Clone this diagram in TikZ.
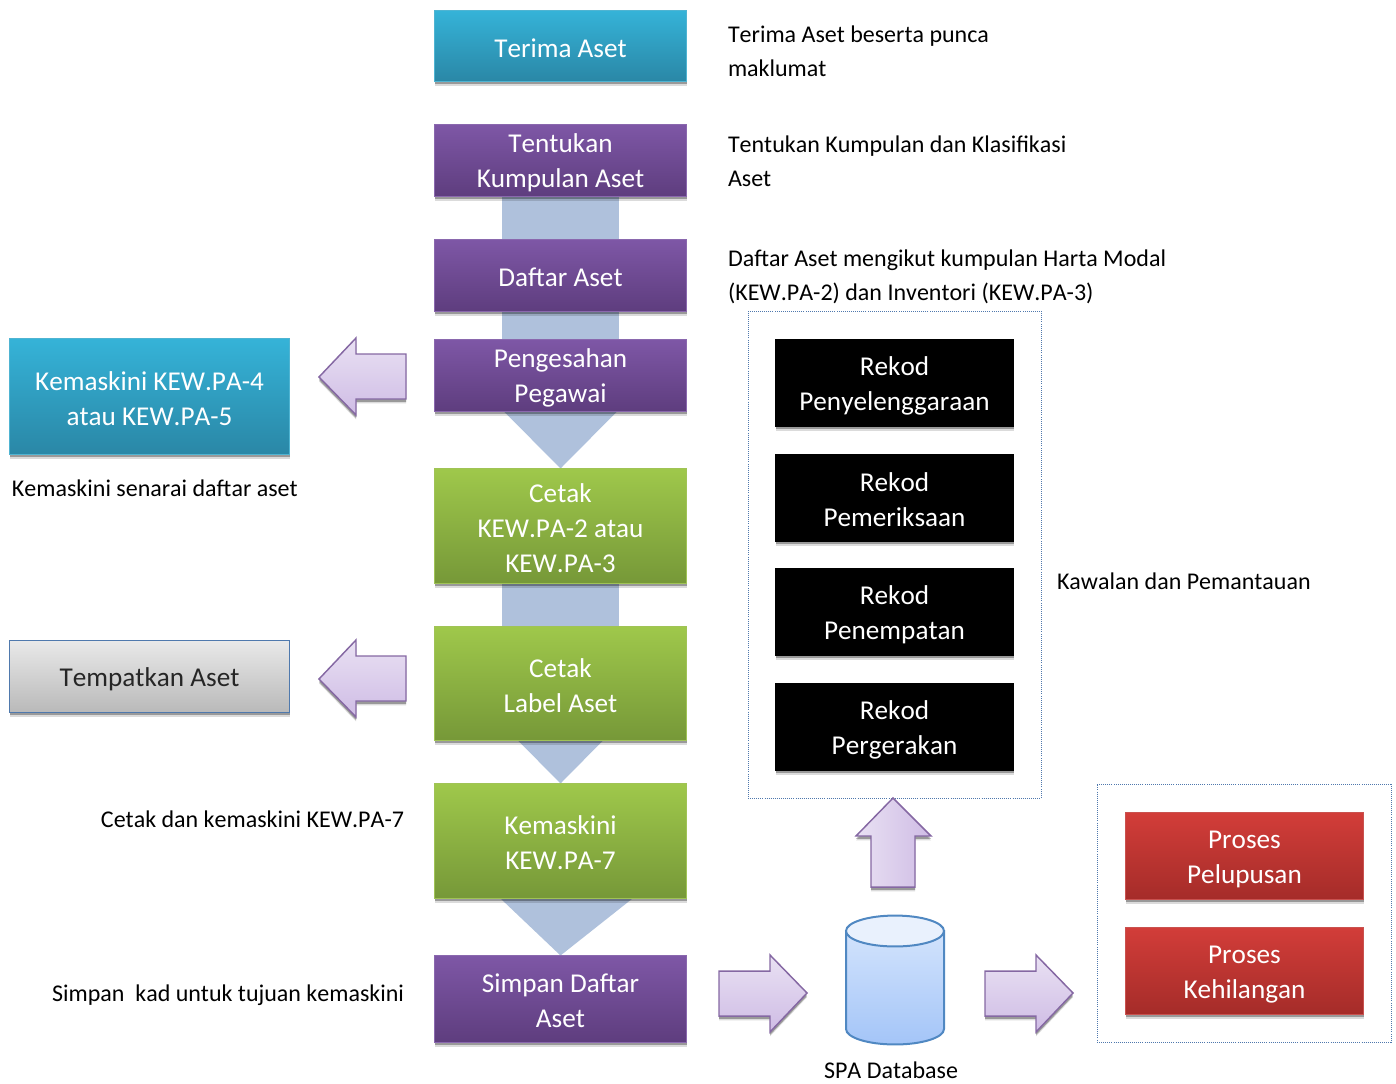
\documentclass[tikz,border=0pt]{standalone}
\usepackage{fontspec}
\setmainfont[Kerning=Off]{Carlito}
\usetikzlibrary{calc,shadows}
\pgfdeclarelayer{background}
\pgfsetlayers{background,main}
\definecolor{cyanT}{HTML}{35B3D8}\definecolor{cyanB}{HTML}{2A87A6}\definecolor{cyanL}{HTML}{4FB4D2}
\definecolor{purT}{HTML}{7E57A6}\definecolor{purB}{HTML}{5E3D7E}\definecolor{purL}{HTML}{8A68AE}
\definecolor{grnT}{HTML}{9FC84B}\definecolor{grnB}{HTML}{769838}\definecolor{grnL}{HTML}{A0C356}
\definecolor{redT}{HTML}{D23D39}\definecolor{redB}{HTML}{A52C29}\definecolor{redL}{HTML}{C9524F}
\definecolor{gryT}{HTML}{E9E9E9}\definecolor{gryB}{HTML}{B9B9B9}\definecolor{gryL}{HTML}{4F79AD}
\definecolor{link}{HTML}{AFC1DC}
\definecolor{arT}{HTML}{E9E1F3}\definecolor{arB}{HTML}{CFBCE5}\definecolor{arL}{HTML}{8568A3}
\definecolor{dot}{HTML}{4F78AD}
\definecolor{cylT}{HTML}{D2E3FC}\definecolor{cylB}{HTML}{A4C5F8}\definecolor{cylC}{HTML}{E9F1FD}\definecolor{cylL}{HTML}{5088C2}
\tikzset{
  softshadow/.style={preaction={drop shadow={shadow xshift=0pt,shadow yshift=-3.2pt,opacity=.14,fill=black}},
                     preaction={drop shadow={shadow xshift=0pt,shadow yshift=-2.2pt,opacity=.30,fill=black}}},
  flow/.style n args={3}{draw=#3,line width=.6pt,top color=#1,bottom color=#2,text=white,softshadow,
     inner sep=0pt,outer sep=0pt,align=center,font=\fontsize{20.4}{26.25}\selectfont},
  cyanbox/.style={flow={cyanT}{cyanB}{cyanL}},
  purplebox/.style={flow={purT}{purB}{purL}},
  greenbox/.style={flow={grnT}{grnB}{grnL}},
  redbox/.style={flow={redT}{redB}{redL}},
  greybox/.style={flow={gryT}{gryB}{gryL},text=black!85,line width=1.2pt},
  blackbox/.style={draw=black,line width=.5pt,fill=black,text=white,softshadow,inner sep=0pt,outer sep=0pt,align=center,font=\fontsize{20.4}{26.25}\selectfont},
  note/.style={text=black,inner sep=0pt,outer sep=0pt,align=left,font=\fontsize{18}{25.5}\selectfont},
  linkshape/.style={fill=link,draw=none},
  framebox/.style={draw=dot,line width=.55pt,densely dotted,inner sep=0pt,outer sep=0pt},
  blockH/.style={draw=arL,line width=1.1pt,top color=arT,bottom color=arB,softshadow,line join=miter},
  blockU/.style={draw=arL,line width=1.1pt,left color=arT,right color=arB,softshadow,line join=miter},
}
\newcommand{\pxbox}[7]{\node[#2,minimum width={(#5-#3-1)*0.75pt},minimum height={(#6-#4-1)*0.75pt}] (#1) at ({(#3+#5)/2},{(#4+#6)/2}) {\rule{0pt}{18pt}#7\rule[-1.3pt]{0pt}{1.3pt}};}
\begin{document}
\begin{tikzpicture}[x=0.75pt,y=-0.75pt]
\useasboundingbox (0,0) rectangle (1396,1083);

% main flow
\pxbox{terima}{cyanbox}{434}{10}{687}{82}{Terima Aset}
\pxbox{tentukan}{purplebox}{434}{124}{687}{197}{Tentukan\\Kumpulan Aset}
\pxbox{daftar}{purplebox}{434}{239}{687}{312}{Daftar Aset}
\pxbox{pengesahan}{purplebox}{434}{339}{687}{412}{Pengesahan\\Pegawai}
\pxbox{cetak}{greenbox}{434}{468}{687}{584}{Cetak\\KEW.PA-2 atau\\KEW.PA-3}
\pxbox{label}{greenbox}{434}{626}{687}{741}{Cetak\\Label Aset}
\pxbox{kemaskini}{greenbox}{434}{783}{687}{899}{Kemaskini\\KEW.PA-7}
\pxbox{simpan}{purplebox}{434}{955}{687}{1043}{Simpan Daftar\\Aset}

% left boxes
\pxbox{kew}{cyanbox}{9}{338}{290}{455}{Kemaskini KEW.PA-4\\atau KEW.PA-5}
\pxbox{tempat}{greybox}{9}{640}{290}{713}{Tempatkan Aset}

% record boxes
\pxbox{rekodA}{blackbox}{775}{339}{1014}{427}{Rekod\\Penyelenggaraan}
\pxbox{rekodB}{blackbox}{775}{454}{1014}{542}{Rekod\\Pemeriksaan}
\pxbox{rekodC}{blackbox}{775}{568}{1014}{656}{Rekod\\Penempatan}
\pxbox{rekodD}{blackbox}{775}{683}{1014}{771}{Rekod\\Pergerakan}

% process boxes
\pxbox{pelupusan}{redbox}{1125}{812}{1364}{900}{Proses\\Pelupusan}
\pxbox{kehilangan}{redbox}{1125}{927}{1364}{1015}{Proses\\Kehilangan}

% dotted frames
\node[framebox,minimum width=219.75pt,minimum height=365.25pt] (frameA) at (894.5,554.5) {};
\node[framebox,minimum width=220.5pt,minimum height=193.5pt] (frameB) at (1244,913) {};

% notes
\node[note,anchor=west] (n1) at (728,51) {Terima Aset beserta punca\\maklumat};
\node[note,anchor=west] (n2) at (728,161) {Tentukan Kumpulan dan Klasifikasi\\Aset};
\node[note,anchor=west] (n3) at (728,277) {Daftar Aset mengikut kumpulan Harta Modal\\(KEW.PA-2) dan Inventori (KEW.PA-3)};
\node[note,anchor=west] (n4) at (12,488) {Kemaskini senarai daftar aset};
\node[note,anchor=west] (n5) at (1057,581) {Kawalan dan Pemantauan};
\node[note,anchor=east] (n6) at (404,819) {Cetak dan kemaskini KEW.PA-7};
\node[note,anchor=east] (n7) at (404,995) {Simpan\ \ kad untuk tujuan kemaskini};
\node[note] (n8) at (891,1070.5) {SPA Database};

% links between flow boxes
\begin{pgfonlayer}{background}
\fill[linkshape] ($(tentukan.south)+(-58.5,0)$) rectangle ($(daftar.north)+(58.5,0)$);
\fill[linkshape] ($(daftar.south)+(-58.5,0)$) rectangle ($(pengesahan.north)+(58.5,0)$);
\fill[linkshape] ($(pengesahan.south)+(-56.5,0)$) -- ($(pengesahan.south)+(56.5,0)$) -- (cetak.north) -- cycle;
\fill[linkshape] ($(cetak.south)+(-58.5,0)$) rectangle ($(label.north)+(58.5,0)$);
\fill[linkshape] ($(label.south)+(-42.5,0)$) -- ($(label.south)+(42.5,0)$) -- (kemaskini.north) -- cycle;
\fill[linkshape] ($(kemaskini.south)+(-60,0)$) -- ($(kemaskini.south)+(72,0)$) -- (simpan.north) -- cycle;
\end{pgfonlayer}

% block arrows
\draw[blockH] (406,354) -- (356,354) -- (356,338) -- (319,377) -- (356,415) -- (356,399) -- (406,399) -- cycle;
\draw[blockH] (406,656) -- (356,656) -- (356,640) -- (319,679) -- (356,717) -- (356,701) -- (406,701) -- cycle;
\draw[blockU] (871,887) -- (871,836) -- (856,836) -- (893,798) -- (931,836) -- (915,836) -- (915,887) -- cycle;
\draw[blockH] (719,971) -- (770,971) -- (770,955) -- (807,993) -- (770,1032) -- (770,1016) -- (719,1016) -- cycle;
\draw[blockH] (985,971) -- (1036,971) -- (1036,955) -- (1073,993) -- (1036,1032) -- (1036,1016) -- (985,1016) -- cycle;

% database cylinder
\draw[draw=cylL,line width=1.5pt,top color=cylT,bottom color=cylB]
  (846,931) -- (846,1029) arc[start angle=180,end angle=360,x radius=36.75pt,y radius=11.6pt] -- (944,931) -- cycle;
\draw[draw=cylL,line width=1.5pt,fill=cylC] (895,931) ellipse [x radius=36.75pt,y radius=11.6pt];
\end{tikzpicture}
\end{document}
